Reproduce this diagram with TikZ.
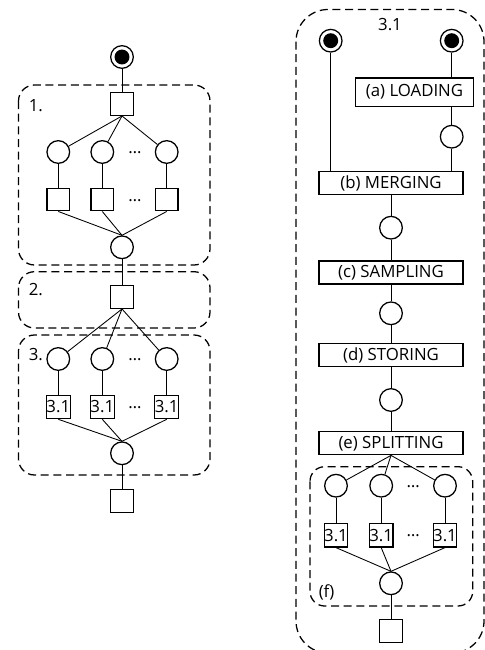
\documentclass[tikz,border=0pt]{standalone}
\usepackage{fontspec}
\setmainfont{Open Sans}
\begin{document}
\begin{tikzpicture}[x=0.75pt,y=-0.75pt,
  font=\fontsize{12.6}{15}\selectfont,
  link/.style={line width=0.65pt},
  place/.style={circle,draw,line width=0.95pt,minimum size=17pt,inner sep=0pt},
  trans/.style={rectangle,draw,line width=0.95pt,minimum size=17pt,inner sep=0pt},
  subnet/.style={rectangle,draw,line width=0.95pt,minimum size=17.5pt,inner sep=0pt},
  startplace/.style={place,path picture={\fill (path picture bounding box.center) circle (5.6pt);}},
  stage/.style={rectangle,draw,line width=0.95pt,inner sep=0pt,minimum width=108pt,minimum height=17.2pt},
  group/.style={draw,line width=0.95pt,dash pattern=on 6pt off 3.5pt},
  dots/.style={anchor=base,inner sep=0pt},
  tag/.style={anchor=base west,inner sep=0pt}]
\useasboundingbox (0,0) rectangle (485,650);

% ---------- left: overall workflow ----------
\draw[group,rounded corners=12pt] (18.5,85) rectangle (210,265);
\draw[group,rounded corners=12pt] (18.5,271.7) rectangle (210,328);
\draw[group,rounded corners=12pt] (18.5,335) rectangle (210,475);
\node[tag] (l1) at (28.5,111) {1.};
\node[tag] (l2) at (28.5,295) {2.};
\node[tag] (l3) at (28.5,360) {3.};

\node[startplace] (s0) at (122,57) {};
\node[trans] (q1) at (122,104) {};
\node[place] (c11) at (58.3,152) {};
\node[place] (c12) at (102.3,152) {};
\node[place] (c13) at (166.7,152) {};
\node[dots] (d11) at (135,153.5) {…};
\node[trans] (q11) at (58.3,199.5) {};
\node[trans] (q12) at (102.3,199.5) {};
\node[trans] (q13) at (166.7,199.5) {};
\node[dots] (d12) at (135,201) {…};
\node[place] (c1) at (122,247.3) {};
\node[trans] (q2) at (122,297) {};
\node[place] (c31) at (58.3,359) {};
\node[place] (c32) at (102.3,359) {};
\node[place] (c33) at (166.7,359) {};
\node[dots] (d31) at (135,360.5) {…};
\node[subnet] (b31) at (58.3,407) {3.1};
\node[subnet] (b32) at (102.3,407) {3.1};
\node[subnet] (b33) at (166.7,407) {3.1};
\node[dots] (d32) at (135,408.5) {…};
\node[place] (c3) at (122,453.3) {};
\node[trans] (qend) at (122,501) {};

\draw[link] (s0) -- (q1);
\foreach \i in {1,2,3}{
  \draw[link] (q1.south) -- (c1\i);
  \draw[link] (c1\i) -- (q1\i);
  \draw[link] (q1\i.south) -- (c1.north);
  \draw[link] (q2.south) -- (c3\i);
  \draw[link] (c3\i) -- (b3\i);
  \draw[link] (b3\i.south) -- (c3.north);
}
\draw[link] (c1) -- (q2);
\draw[link] (c3) -- (qend);

% ---------- right: step 3.1 in detail ----------
\draw[group,rounded corners=24pt] (296,9.5) rectangle (484,653);
\draw[group,rounded corners=11pt] (310,466.7) rectangle (472.7,606);
\node[anchor=base,inner sep=0pt] (t31) at (390,30.7) {3.1};
\node[tag] (lf) at (318.5,597) {(f)};

\node[startplace] (sa) at (330.7,40.7) {};
\node[startplace] (sb) at (451.7,40.7) {};
\node[stage,minimum width=88.2pt,minimum height=21.2pt] (load) at (414.5,92) {(a) LOADING};
\node[place] (ca) at (451.7,136.7) {};
\node[stage] (merge) at (391,183) {(b) MERGING};
\node[place] (cm) at (391,227.7) {};
\node[stage] (samp) at (391,272.5) {(c) SAMPLING};
\node[place] (cs) at (391,313.3) {};
\node[stage] (store) at (391,355) {(d) STORING};
\node[place] (cst) at (391,400) {};
\node[stage] (split) at (391,443.3) {(e) SPLITTING};
\node[place] (f1) at (336,485.7) {};
\node[place] (f2) at (381.2,485.7) {};
\node[place] (f3) at (445,485.7) {};
\node[dots] (df1) at (413.3,487.2) {…};
\node[subnet] (g1) at (336,535.3) {3.1};
\node[subnet] (g2) at (381.2,535.3) {3.1};
\node[subnet] (g3) at (445,535.3) {3.1};
\node[dots] (df2) at (413.3,536.8) {…};
\node[place] (cf) at (391,583.3) {};
\node[trans] (qf) at (391,631) {};

\draw[link] (sa) -- (sa |- merge.north);
\draw[link] (sb) -- (sb |- load.north);
\draw[link] (ca |- load.south) -- (ca);
\draw[link] (ca) -- (ca |- merge.north);
\draw[link] (merge) -- (cm);
\draw[link] (cm) -- (samp);
\draw[link] (samp) -- (cs);
\draw[link] (cs) -- (store);
\draw[link] (store) -- (cst);
\draw[link] (cst) -- (split);
\foreach \i in {1,2,3}{
  \draw[link] (split.south) -- (f\i);
  \draw[link] (f\i) -- (g\i);
  \draw[link] (g\i.south) -- (cf.north);
}
\draw[link] (cf) -- (qf);
\end{tikzpicture}
\end{document}
